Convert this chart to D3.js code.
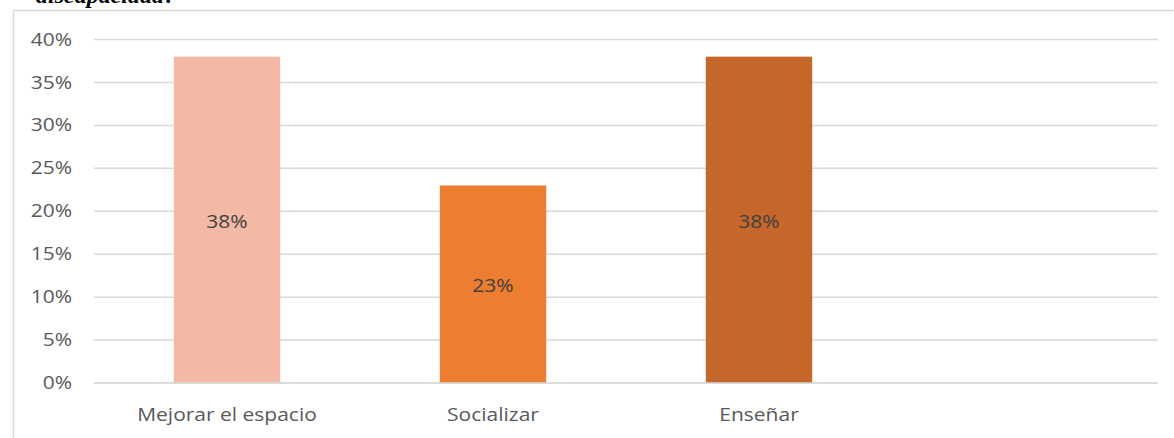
<!DOCTYPE html>
<html>
<head>
<meta charset="utf-8">
<script src="https://cdn.jsdelivr.net/npm/d3@7"></script>
<style>
  body { margin: 0; background: #fff; }
  svg { display: block; }
</style>
</head>
<body>
<div id="chart"></div>
<script>
var svgWidth = 1174;
var svgHeight = 438;

// data
var categories = ["Mejorar el espacio", "Socializar", "Enseñar", ""];
var values = [0.38, 0.23, 0.38, null];
var barColors = ["#F4B9A5", "#ED7D31", "#C5672A", "#fff"];
var yTicks = [0, 0.05, 0.10, 0.15, 0.20, 0.25, 0.30, 0.35, 0.40];

var margin = { top: 39.5, right: 16, bottom: 55, left: 94 };
var width = svgWidth - margin.left - margin.right;
var height = 383 - margin.top;

var font = "'Open Sans', sans-serif";
var stretch = 1.2; // the source picture is a little wider than tall

var svg = d3.select("#chart")
  .append("svg")
  .attr("width", svgWidth)
  .attr("height", svgHeight);

// cut-off caption from the page above the chart
svg.append("text")
  .attr("transform", `translate(176, 3) scale(${stretch}, 1)`)
  .attr("text-anchor", "end")
  .attr("font-family", "'Liberation Serif', serif")
  .attr("font-style", "italic")
  .attr("font-weight", "bold")
  .attr("font-size", "20px")
  .attr("fill", "#000")
  .text("discapacidad?");

// chart frame
svg.append("path")
  .attr("d", "M13.5," + svgHeight + "V10.5H" + svgWidth)
  .attr("fill", "none")
  .attr("stroke", "#d9d9d9")
  .attr("stroke-width", 1.5);

var chartGroup = svg.append("g")
  .attr("transform", `translate(${margin.left}, ${margin.top})`);

var xScale = d3.scaleBand()
  .domain(d3.range(categories.length))
  .range([0, width])
  .paddingInner(0.6)
  .paddingOuter(0.3);

var yScale = d3.scaleLinear()
  .domain([0, 0.40])
  .range([height, 0]);

// gridlines
chartGroup.selectAll(".grid")
  .data(yTicks)
  .enter()
  .append("line")
  .attr("x1", 0)
  .attr("x2", width)
  .attr("y1", d => yScale(d))
  .attr("y2", d => yScale(d))
  .attr("stroke", "#d9d9d9")
  .attr("stroke-width", 1.5);

// y axis labels
var leftAxis = d3.axisLeft(yScale)
  .tickValues(yTicks)
  .tickFormat(d3.format(".0%"))
  .tickSize(0)
  .tickPadding(22 / stretch);

var yAxis = chartGroup.append("g").call(leftAxis);
yAxis.select(".domain").remove();
yAxis.selectAll("text")
  .attr("transform", `scale(${stretch}, 1)`)
  .attr("font-family", font)
  .attr("font-size", "17.5px")
  .attr("fill", "#595959");

// bars
var barData = values.map((v, i) => ({ i: i, v: v })).filter(d => d.v !== null);

chartGroup.selectAll(".bar")
  .data(barData)
  .enter()
  .append("rect")
  .attr("x", d => xScale(d.i))
  .attr("y", d => yScale(d.v))
  .attr("width", xScale.bandwidth())
  .attr("height", d => height - yScale(d.v))
  .attr("fill", d => barColors[d.i]);

// value labels
chartGroup.selectAll(".val")
  .data(barData)
  .enter()
  .append("text")
  .attr("transform", d => `translate(${xScale(d.i) + xScale.bandwidth() / 2}, ${(yScale(d.v) + height) / 2 + 2}) scale(${stretch}, 1)`)
  .attr("dy", "0.35em")
  .attr("text-anchor", "middle")
  .attr("font-family", font)
  .attr("font-size", "17.5px")
  .attr("fill", "#404040")
  .text(d => d3.format(".0%")(d.v));

// baseline over bars
chartGroup.append("line")
  .attr("x1", 0)
  .attr("x2", width)
  .attr("y1", height)
  .attr("y2", height)
  .attr("stroke", "#d9d9d9")
  .attr("stroke-width", 1.5);

// category labels
chartGroup.selectAll(".cat")
  .data(categories)
  .enter()
  .append("text")
  .attr("transform", (d, i) => `translate(${xScale(i) + xScale.bandwidth() / 2}, ${height + 32}) scale(${stretch}, 1)`)
  .attr("dy", "0.35em")
  .attr("text-anchor", "middle")
  .attr("font-family", font)
  .attr("font-size", "17.5px")
  .attr("fill", "#595959")
  .text(d => d);
</script>
</body>
</html>
